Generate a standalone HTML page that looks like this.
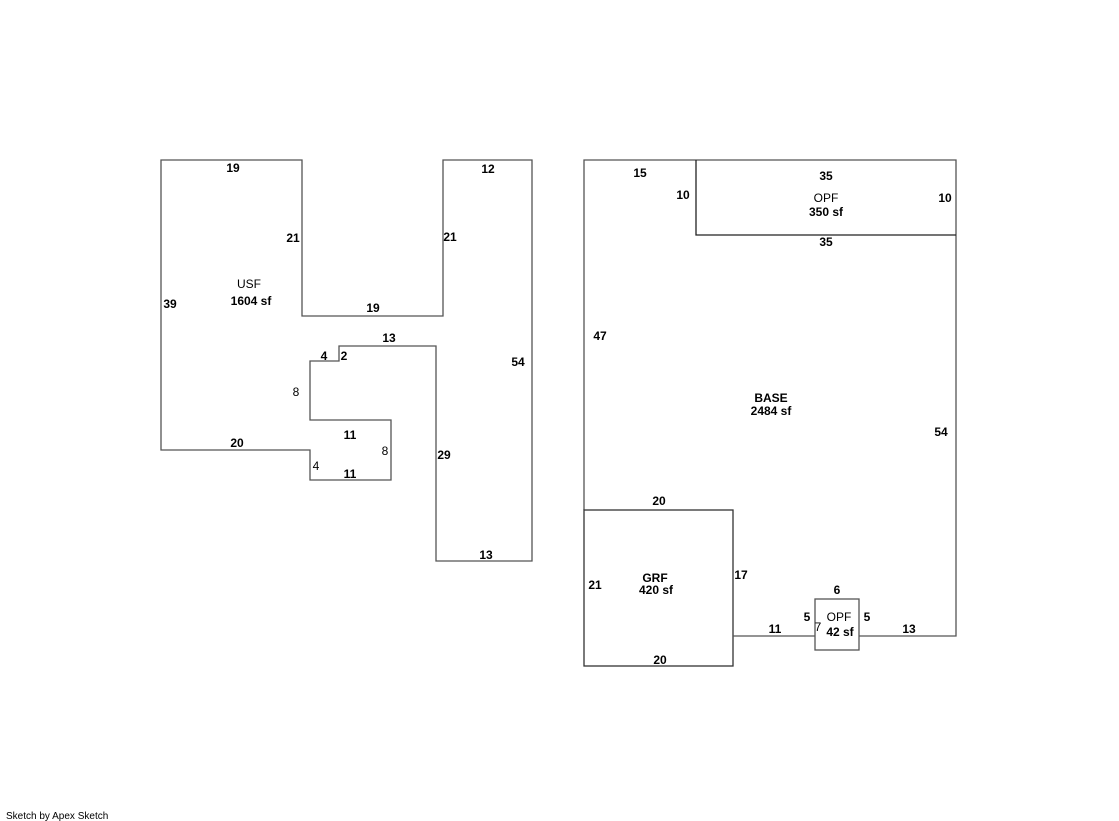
<!DOCTYPE html>
<html><head><style>
html,body{margin:0;padding:0;background:#fff;width:1119px;height:821px;overflow:hidden}
svg{display:block}
text{font-family:"Liberation Sans",Arial,sans-serif;font-size:12px;font-weight:bold;fill:#000;text-anchor:middle}
.n{font-weight:normal}
</style></head><body>
<svg width="1119" height="821" viewBox="0 0 1119 821">
<g fill="none" stroke="#555" stroke-width="1.3">
<polygon points="161,160 302,160 302,316 443,316 443,160 532,160 532,561 436,561 436,346 339,346 339,361 310,361 310,420 391,420 391,480 310,480 310,450 161,450"/>
<polyline points="584,510 584,160 956,160 956,636 859,636"/>
<polyline points="696,160 696,235 956,235" stroke="#222"/>
<rect x="584" y="510" width="149" height="156" stroke="#333"/>
<line x1="733" y1="636" x2="815" y2="636"/>
<rect x="815" y="599" width="44" height="51"/>
</g>
<text x="233" y="172">19</text>
<text x="293" y="242">21</text>
<text x="450" y="241">21</text>
<text x="488" y="173">12</text>
<text x="170" y="308">39</text>
<text x="249" y="288" class="n">USF</text>
<text x="251" y="305">1604 sf</text>
<text x="373" y="312">19</text>
<text x="389" y="342">13</text>
<text x="324" y="360">4</text>
<text x="344" y="360">2</text>
<text x="518" y="366">54</text>
<text x="296" y="396" class="n">8</text>
<text x="350" y="439">11</text>
<text x="385" y="455" class="n">8</text>
<text x="237" y="447">20</text>
<text x="316" y="470" class="n">4</text>
<text x="350" y="478">11</text>
<text x="444" y="459">29</text>
<text x="486" y="559">13</text>
<text x="640" y="177">15</text>
<text x="683" y="199">10</text>
<text x="826" y="180">35</text>
<text x="826" y="202" class="n">OPF</text>
<text x="826" y="216">350 sf</text>
<text x="945" y="202">10</text>
<text x="826" y="246">35</text>
<text x="600" y="340">47</text>
<text x="771" y="402">BASE</text>
<text x="771" y="415">2484 sf</text>
<text x="941" y="436">54</text>
<text x="659" y="505">20</text>
<text x="655" y="582">GRF</text>
<text x="656" y="594">420 sf</text>
<text x="595" y="589">21</text>
<text x="741" y="579">17</text>
<text x="837" y="594">6</text>
<text x="807" y="621">5</text>
<text x="839" y="621" class="n">OPF</text>
<text x="818" y="631" class="n">7</text>
<text x="840" y="636">42 sf</text>
<text x="867" y="621">5</text>
<text x="775" y="633">11</text>
<text x="909" y="633">13</text>
<text x="660" y="664">20</text>
<text x="6" y="819" class="n" style="font-size:10px;text-anchor:start">Sketch by Apex Sketch</text>
</svg>
</body></html>
